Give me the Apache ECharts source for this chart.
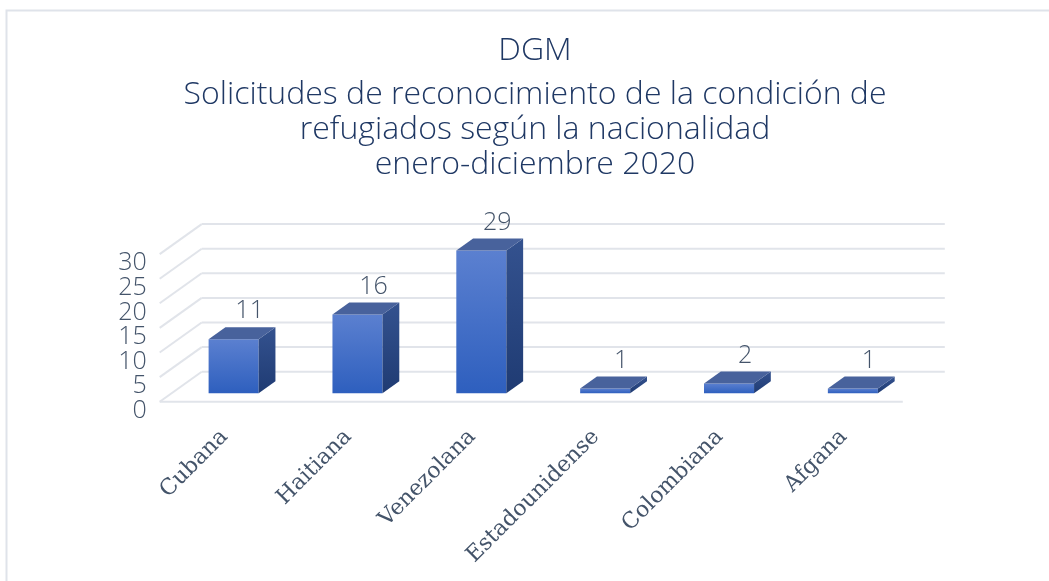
<!DOCTYPE html>
<html>
<head>
<meta charset="utf-8">
<script src="https://cdn.jsdelivr.net/npm/echarts@6/dist/echarts.min.js"></script>
<style>
html,body{margin:0;padding:0;background:#fff;}
#chart{width:1049px;height:581px;}
</style>
</head>
<body>
<div id="chart"></div>
<script>
const titleText = 'DGM';
const subtitleLines = ['Solicitudes de reconocimiento de la condición de', 'refugiados según la nacionalidad', 'enero-diciembre 2020'];
const categories = ['Cubana', 'Haitiana', 'Venezolana', 'Estadounidense', 'Colombiana', 'Afgana'];
const values = [11, 16, 29, 1, 2, 1];
const yTicks = [0, 5, 10, 15, 20, 25, 30];

const chart = echarts.init(document.getElementById('chart'), null, {renderer: 'canvas'});

// 3D projection offsets (pixels)
const BACK_DX = 30, BACK_DY = -21.6;   // bar front plane -> back wall
const FRONT_DX = -12, FRONT_DY = 8.4;  // bar front plane -> floor front edge
const BAR_DX = 16.8, BAR_DY = -12;     // bar depth
const GRID_COLOR = '#e1e4ea';
const NUM_FONT = 'Open Sans';
const LABEL_COLOR = '#44546a';
const titleStyle = {
  fontFamily: 'Open Sans',
  fontWeight: 300,
  fontSize: 32,
  lineHeight: 35,
  color: '#1f3864'
};

const option = {
  backgroundColor: '#ffffff',
  animation: false,
  title: {
    text: titleText,
    subtext: subtitleLines.join('\n'),
    left: 535,
    textAlign: 'center',
    top: 33.5,
    padding: 0,
    itemGap: 8.5,
    textStyle: titleStyle,
    subtextStyle: titleStyle
  },
  graphic: [{
    type: 'rect',
    shape: {x: 6.5, y: 10.5, width: 1200, height: 800},
    style: {fill: 'none', stroke: '#dfe3ea', lineWidth: 2},
    silent: true,
    z: 0
  }],
  grid: {left: 171.7, right: 134.2, top: 245.7, bottom: 187.7, containLabel: false},
  xAxis: {
    type: 'category',
    data: categories,
    axisLine: {show: false},
    axisTick: {show: false},
    splitLine: {show: false},
    axisLabel: {
      rotate: 45,
      margin: 31,
      interval: 0,
      padding: [0, 13, 0, 0],
      fontFamily: 'DejaVu Serif',
      fontSize: 22,
      color: LABEL_COLOR
    }
  },
  yAxis: {
    type: 'value',
    min: 0,
    max: 30,
    interval: 5,
    axisLine: {show: false},
    axisTick: {show: false},
    splitLine: {show: false},
    axisLabel: {show: false}
  },
  series: [
    {
      type: 'custom',
      name: 'walls',
      silent: true,
      z: 1,
      data: yTicks.map(v => [0, v]),
      encode: {x: 0, y: 1},
      renderItem: function (params, api) {
        const cs = params.coordSys;
        const v = api.value(1);
        const y = api.coord([0, v])[1];
        const left = cs.x, right = cs.x + cs.width;
        const children = [];
        const ls = {stroke: GRID_COLOR, lineWidth: 2};
        children.push({type: 'line', shape: {x1: left + BACK_DX, y1: y + BACK_DY, x2: right + BACK_DX, y2: y + BACK_DY}, style: ls});
        children.push({type: 'line', shape: {x1: left + BACK_DX, y1: y + BACK_DY, x2: left + FRONT_DX, y2: y + FRONT_DY}, style: ls});
        if (v === 0) {
          children.push({type: 'line', shape: {x1: left + FRONT_DX, y1: y + FRONT_DY, x2: right + FRONT_DX, y2: y + FRONT_DY}, style: ls});
        }
        // value-axis tick label
        children.push({
          type: 'text',
          style: {
            text: String(v),
            x: left - 25,
            y: y + 17.5,
            align: 'right',
            verticalAlign: 'middle',
            fontFamily: NUM_FONT,
            fontWeight: 300,
            fontSize: 25,
            fill: LABEL_COLOR
          }
        });
        return {type: 'group', children: children};
      }
    },
    {
      type: 'custom',
      name: 'Solicitudes',
      z: 5,
      data: values.map((v, i) => [i, v]),
      encode: {x: 0, y: 1},
      renderItem: function (params, api) {
        const top = api.coord([api.value(0), api.value(1)]);
        const bot = api.coord([api.value(0), 0]);
        const w = api.size([1, 0])[0] * 0.404;
        const x0 = top[0] - w / 2, x1 = top[0] + w / 2;
        const yT = top[1], yB = bot[1];
        return {
          type: 'group',
          children: [
            {
              type: 'rect',
              shape: {x: x0, y: yT, width: w, height: yB - yT},
              style: {fill: new echarts.graphic.LinearGradient(0, 0, 0, 1, [
                {offset: 0, color: '#5b80d0'},
                {offset: 1, color: '#2e5fbe'}
              ])}
            },
            {
              type: 'polygon',
              shape: {points: [[x1, yT], [x1 + BAR_DX, yT + BAR_DY], [x1 + BAR_DX, yB + BAR_DY], [x1, yB]]},
              style: {fill: new echarts.graphic.LinearGradient(0, 0, 0, 1, [
                {offset: 0, color: '#34528f'},
                {offset: 1, color: '#1f3b73'}
              ])}
            },
            {
              type: 'polygon',
              shape: {points: [[x0, yT], [x1, yT], [x1 + BAR_DX, yT + BAR_DY], [x0 + BAR_DX, yT + BAR_DY]]},
              style: {fill: '#48629c'}
            },
            {
              type: 'text',
              style: {
                text: String(api.value(1)),
                x: top[0] + 16,
                y: yT + BAR_DY - 16,
                align: 'center',
                verticalAlign: 'middle',
                fontFamily: NUM_FONT,
                fontWeight: 300,
                fontSize: 25,
                fill: LABEL_COLOR
              }
            }
          ]
        };
      }
    }
  ]
};
chart.setOption(option);
</script>
</body>
</html>
